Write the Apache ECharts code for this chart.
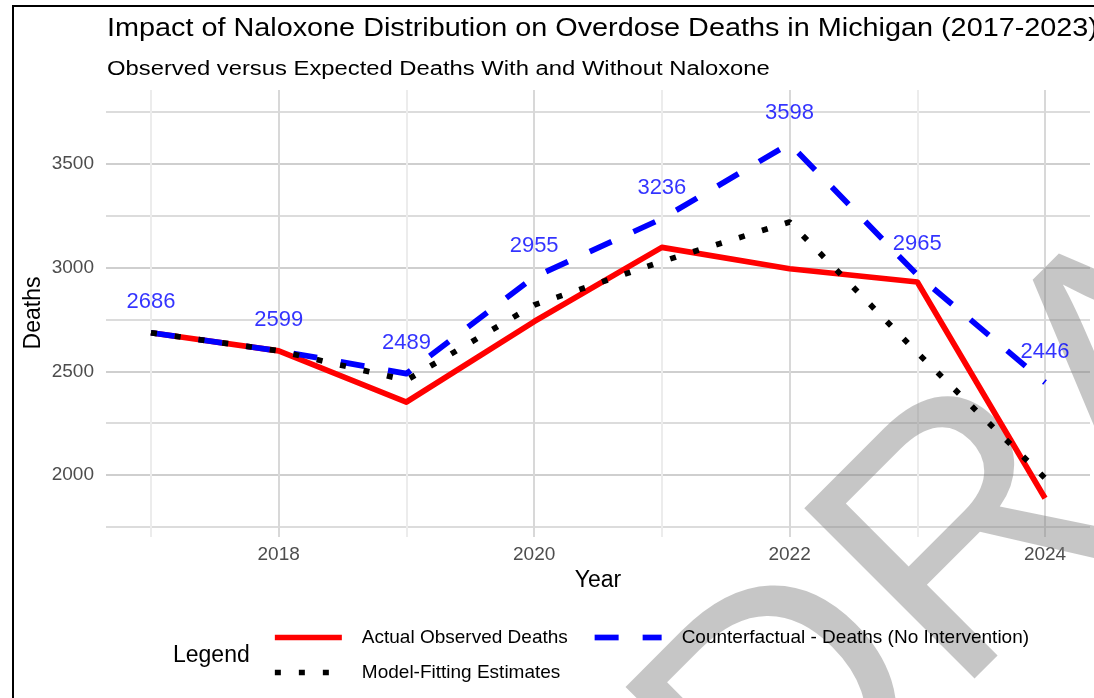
<!DOCTYPE html>
<html>
<head>
<meta charset="utf-8">
<script src="https://cdn.jsdelivr.net/npm/echarts@6/dist/echarts.min.js"></script>
<style>
  html, body { margin: 0; padding: 0; background: #fff; }
  #graph { width: 1094px; height: 698px; }
</style>
</head>
<body>
<div id="graph"></div>
<script>
const chartDom = document.getElementById('graph')
const myChart = echarts.init(chartDom)

const FONT = '"Liberation Sans", Arial, sans-serif'

// data
const years = [2017, 2018, 2019, 2020, 2021, 2022, 2023, 2024]
const actualDeaths = [2686, 2599, 2352, 2740, 3098, 2995, 2931, 1888]
const counterfactualDeaths = [2686, 2599, 2489, 2955, 3236, 3598, 2965, 2446]
const modelEstimates = [2686, 2599, 2457, 2820, 3030, 3220, 2590, 1985]

const pairs = (ys) => years.map((y, i) => [y, ys[i]])

// legend keys are plain lines, no symbol in the middle
const legendBase = {
    left: 272,
    padding: 0,
    itemWidth: 67,
    itemHeight: 20,
    itemGap: 24,
    selectedMode: false,
    lineStyle: { width: 5.7 },
    itemStyle: { color: 'transparent', borderColor: 'transparent', borderWidth: 0, opacity: 0 },
    textStyle: { fontSize: 19, color: '#000', fontFamily: FONT, padding: [0, 0, 0, 15] }
}

const option = {
    animation: false,
    backgroundColor: '#ffffff',
    textStyle: { fontFamily: FONT },
    grid: {
        left: 106,
        right: 4,
        top: 90,
        bottom: 161,
        containLabel: false,
        outerBoundsMode: 'none'
    },
    xAxis: {
        type: 'value',
        min: 2016.648,
        max: 2024.352,
        minInterval: 1,
        maxInterval: 1,
        name: 'Year',
        nameLocation: 'middle',
        nameGap: 31,
        nameTextStyle: { fontSize: 23, color: '#000', fontFamily: FONT },
        axisLine: { show: false },
        axisTick: { show: false },
        axisLabel: {
            margin: 8,
            fontSize: 19,
            color: '#4d4d4d',
            fontFamily: FONT,
            showMinLabel: false,
            showMaxLabel: false,
            formatter: (v) => (Math.abs(v - Math.round(v)) < 1e-6 && Math.round(v) % 2 === 0) ? String(Math.round(v)) : ''
        },
        splitLine: {
            show: true,
            showMinLine: false,
            showMaxLine: false,
            lineStyle: { color: ['#ececec', '#d8d8d8'], width: 2 }
        }
    },
    yAxis: {
        type: 'value',
        min: 1701,
        max: 3857,
        minInterval: 250,
        maxInterval: 250,
        axisLine: { show: false },
        axisTick: { show: false },
        axisLabel: {
            margin: 12,
            fontSize: 19,
            color: '#4d4d4d',
            fontFamily: FONT,
            showMinLabel: false,
            showMaxLabel: false,
            formatter: (v) => (Math.round(v) % 500 === 0) ? String(Math.round(v)) : ''
        },
        splitLine: {
            show: true,
            showMinLine: false,
            showMaxLine: false,
            lineStyle: { color: ['#dcdcdc', '#cfcfcf'], width: 2 }
        }
    },
    legend: [
        Object.assign({}, legendBase, {
            data: ['Actual Observed Deaths', 'Counterfactual - Deaths (No Intervention)'],
            top: 628
        }),
        Object.assign({}, legendBase, {
            data: ['Model-Fitting Estimates'],
            top: 663
        })
    ],
    graphic: [
        // frame of the original figure (only left and top edges are in view)
        {
            type: 'rect', z: 0, silent: true,
            shape: { x: 13, y: 6, width: 2000, height: 2000 },
            style: { fill: 'none', stroke: '#000', lineWidth: 2 }
        },
        {
            type: 'group', x: 107, y: 0, scaleX: 1.152, z: 1,
            children: [
                { type: 'text', x: 0, y: 29.5, z: 1,
                  style: { text: 'Impact of Naloxone Distribution on Overdose Deaths in Michigan (2017-2023)',
                           font: '25px ' + FONT, fill: '#000', verticalAlign: 'middle', align: 'left' } }
            ]
        },
        {
            type: 'group', x: 107, y: 0, scaleX: 1.19, z: 1,
            children: [
                { type: 'text', x: 0, y: 69, z: 1,
                  style: { text: 'Observed versus Expected Deaths With and Without Naloxone',
                           font: '20px ' + FONT, fill: '#000', verticalAlign: 'middle', align: 'left' } }
            ]
        },
        // y axis title
        {
            type: 'text', x: 34, y: 313, rotation: Math.PI / 2, z: 1,
            style: { text: 'Deaths', font: '23px ' + FONT, fill: '#000', verticalAlign: 'middle', align: 'center' }
        },
        {
            type: 'text', x: 173, y: 656, z: 5,
            style: { text: 'Legend', font: '23px ' + FONT, fill: '#000', verticalAlign: 'middle', align: 'left' }
        },
        // DRAFT watermark, baseline origin at (793, 895), rotated 45 degrees
        {
            type: 'group', x: 793, y: 895, rotation: Math.PI / 4, z: 1, silent: true,
            children: [
                { type: 'text', x: 0, y: -0.3465 * 350, z: 1,
                  style: { text: 'DRAFT', font: '350px ' + FONT, fill: 'rgba(128,128,128,0.45)',
                           verticalAlign: 'middle', align: 'left' } }
            ]
        }
    ],
    series: [
        {
            name: 'Actual Observed Deaths',
            type: 'line',
            data: pairs(actualDeaths),
            symbol: 'none',
            lineStyle: { color: '#ff0000', width: 5.7, cap: 'butt', join: 'round' },
            itemStyle: { color: '#ff0000' },
            z: 2
        },
        {
            name: 'Counterfactual - Deaths (No Intervention)',
            type: 'line',
            data: pairs(counterfactualDeaths),
            symbol: 'none',
            lineStyle: { color: '#0000ff', width: 5.7, type: [24, 24], cap: 'butt', join: 'round' },
            itemStyle: { color: '#0000ff' },
            z: 3
        },
        {
            name: 'Model-Fitting Estimates',
            type: 'line',
            data: pairs(modelEstimates),
            symbol: 'none',
            lineStyle: { color: '#000000', width: 5.7, type: [6, 18], cap: 'butt', join: 'round' },
            itemStyle: { color: '#000000' },
            z: 4
        },
        {
            name: 'counterfactual labels',
            type: 'scatter',
            data: pairs(counterfactualDeaths),
            symbolSize: 0,
            itemStyle: { color: 'transparent' },
            label: {
                show: true,
                position: 'top',
                distance: 20,
                color: '#0000ff',
                fontSize: 22,
                fontFamily: FONT,
                formatter: (p) => String(p.value[1])
            },
            z: 5
        }
    ]
};

option && myChart.setOption(option);
</script>
</body>
</html>
